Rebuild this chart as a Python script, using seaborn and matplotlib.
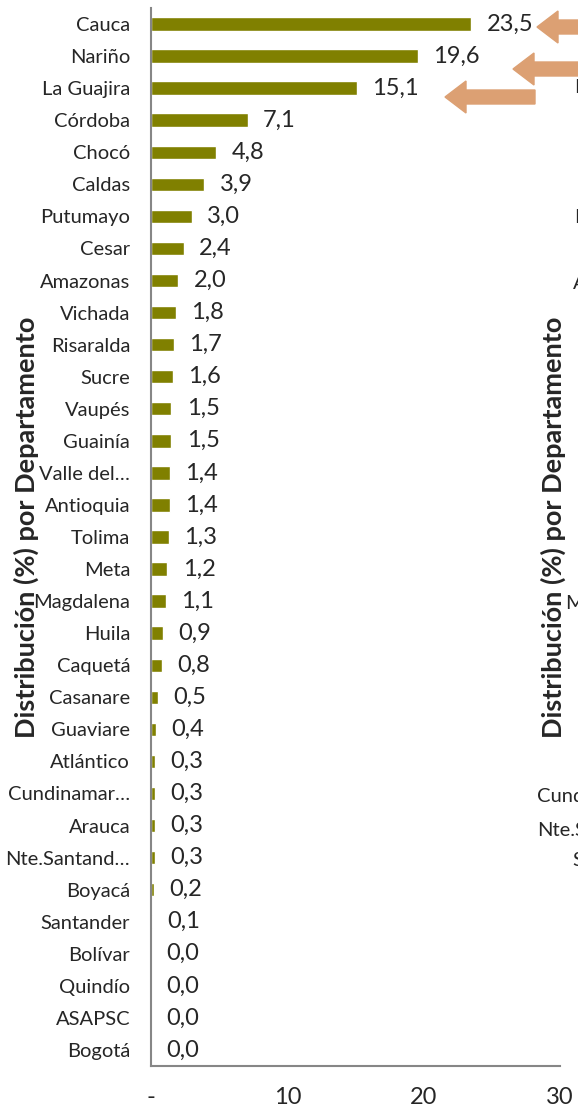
import matplotlib
matplotlib.use("Agg")
import matplotlib.pyplot as plt
from matplotlib.patches import FancyArrow
import seaborn as sns

departamentos = ["Cauca", "Nariño", "La Guajira", "Córdoba", "Chocó", "Caldas",
                 "Putumayo", "Cesar", "Amazonas", "Vichada", "Risaralda", "Sucre",
                 "Vaupés", "Guainía", "Valle del…", "Antioquia", "Tolima", "Meta",
                 "Magdalena", "Huila", "Caquetá", "Casanare", "Guaviare", "Atlántico",
                 "Cundinamar…", "Arauca", "Nte.Santand…", "Boyacá", "Santander",
                 "Bolívar", "Quindío", "ASAPSC", "Bogotá"]
porcentaje = [23.5, 19.6, 15.1, 7.1, 4.8, 3.9, 3.0, 2.4, 2.0, 1.8, 1.7, 1.6,
              1.5, 1.5, 1.4, 1.4, 1.3, 1.2, 1.1, 0.9, 0.8, 0.5, 0.4, 0.3,
              0.3, 0.3, 0.3, 0.2, 0.1, 0.0, 0.0, 0.0, 0.0]
xticks = [0, 10, 20, 30]
xtick_labels = ["-", "10", "20", "30"]
ylabel = "Distribución (%) por Departamento"

sns.set_style("white")
plt.rcParams["font.family"] = ["Lato", "DejaVu Sans"]

W, H = 578, 1110
fig = plt.figure(figsize=(W / 100, H / 100), dpi=100)
ax = fig.add_axes([151 / W, 1 - 1066 / H, (560 - 151) / W, (1066 - 8) / H])

sns.barplot(x=porcentaje, y=departamentos, color="#808000", orient="h",
            width=0.42, saturation=1, ax=ax)
ax.bar_label(ax.containers[0],
             labels=[f"{v:.1f}".replace(".", ",") for v in porcentaje],
             padding=11, fontsize=17)

ax.set_xlim(0, 30)
ax.set_xticks(xticks)
ax.set_xticklabels(xtick_labels, fontsize=17)
ax.tick_params(axis="x", direction="out", length=5, width=1.5,
               color="#868686", pad=10)
ax.tick_params(axis="y", length=0, pad=15, labelsize=14.5)
for s in ["top", "right"]:
    ax.spines[s].set_visible(False)
for s in ["left", "bottom"]:
    ax.spines[s].set_color("#868686")
    ax.spines[s].set_linewidth(1.5)
ax.set_ylabel(ylabel, fontsize=19.5, fontweight="bold")
ax.yaxis.set_label_coords((39 - 151) / 409, 0.509)

# pieces of the neighbouring chart, cut by the picture edge
fig.text(553 / W, 1 - 527 / H, ylabel, rotation=90, ha="center", va="center",
         fontsize=19.5, fontweight="bold")
stubs = [(575, 88, "La Guajira"), (574, 218, "Putumayo"), (573, 283, "Amazonas"),
         (565, 603, "Magdalena"), (537, 797, "Cundinamar…"),
         (537, 830, "Nte.Santand…"), (572, 861, "Santander")]
for x, y, t in stubs:
    fig.text(x / W, 1 - y / H, t, ha="left", va="center", fontsize=14.5)

# arrows pointing at the top three
arrow_color = "#DCA073"
for tail, tip, y in [(600, 537, 27), (600, 513, 69), (535, 445, 97)]:
    fig.patches.append(FancyArrow(tail / 100, (H - y) / 100, (tip - tail) / 100, 0,
                                  width=0.14, head_width=0.32, head_length=0.21,
                                  length_includes_head=True, color=arrow_color,
                                  transform=fig.dpi_scale_trans, figure=fig))

fig.savefig("out.png", dpi=100)
